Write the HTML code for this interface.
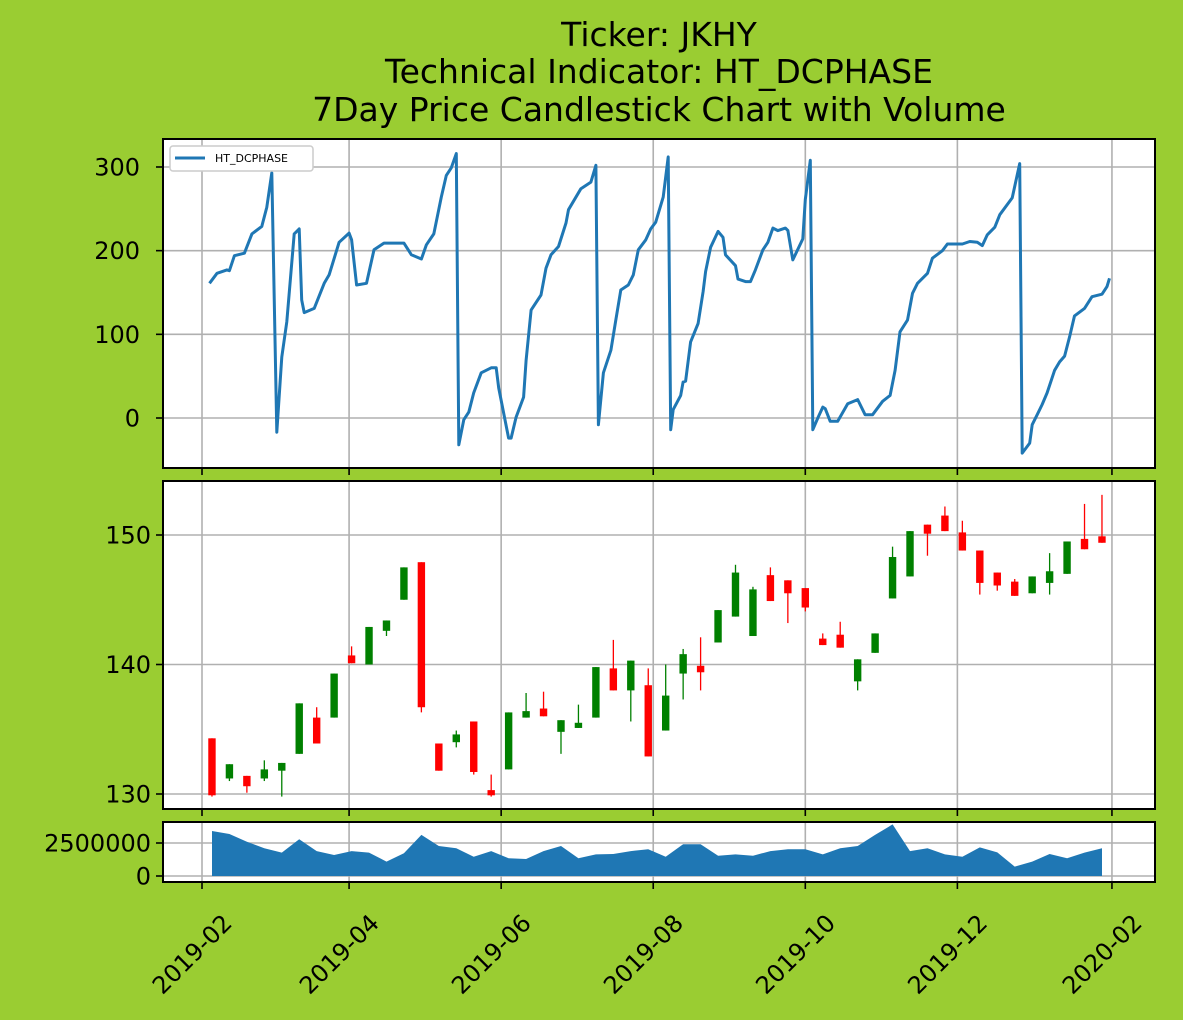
<!DOCTYPE html>
<html><head><meta charset="utf-8">
<style>
html,body{margin:0;padding:0;background:#9acd32;}
svg{display:block;font-family:"DejaVu Sans","Liberation Sans",sans-serif;}
</style></head>
<body>
<svg id="chart" width="1183" height="1020" viewBox="0 0 1183 1020" xmlns="http://www.w3.org/2000/svg">
<rect x="0" y="0" width="1183" height="1020" fill="#9acd32"/>
<g font-size="33" text-anchor="middle" fill="#000">
<text x="659" y="46">Ticker: JKHY</text>
<text x="659" y="83">Technical Indicator: HT_DCPHASE</text>
<text x="659" y="121">7Day Price Candlestick Chart with Volume</text>
</g>
<g id="layers"></g>
</svg>
<script>
// ---- data ----
const candleDates = ["2019-02-05","2019-02-12","2019-02-19","2019-02-26","2019-03-05","2019-03-12","2019-03-19","2019-03-26","2019-04-02","2019-04-09","2019-04-16","2019-04-23","2019-04-30","2019-05-07","2019-05-14","2019-05-21","2019-05-28","2019-06-04","2019-06-11","2019-06-18","2019-06-25","2019-07-02","2019-07-09","2019-07-16","2019-07-23","2019-07-30","2019-08-06","2019-08-13","2019-08-20","2019-08-27","2019-09-03","2019-09-10","2019-09-17","2019-09-24","2019-10-01","2019-10-08","2019-10-15","2019-10-22","2019-10-29","2019-11-05","2019-11-12","2019-11-19","2019-11-26","2019-12-03","2019-12-10","2019-12-17","2019-12-24","2019-12-31","2020-01-07","2020-01-14","2020-01-21","2020-01-28"];
const opens  = [134.3,131.2,131.4,131.2,131.8,133.1,135.9,135.9,140.7,140.0,142.6,145.0,147.9,133.9,134.0,135.6,130.3,131.9,135.9,136.6,134.8,135.1,135.9,139.7,138.0,138.4,134.9,139.3,139.9,141.7,143.7,142.2,146.9,146.5,145.9,142.0,142.3,138.7,140.9,145.1,146.8,150.8,151.5,150.2,148.8,147.1,146.4,145.5,146.3,147.0,149.7,149.9];
const closes = [129.9,132.3,130.6,131.9,132.4,137.0,133.9,139.3,140.1,142.9,143.4,147.5,136.7,131.8,134.6,131.7,129.9,136.3,136.4,136.0,135.7,135.5,139.8,138.0,140.3,132.9,137.6,140.8,139.4,144.2,147.1,145.8,144.9,145.5,144.4,141.5,141.3,140.4,142.4,148.3,150.3,150.1,150.3,148.8,146.3,146.1,145.3,146.8,147.2,149.5,148.9,149.4];
const highs  = [134.3,132.3,131.4,132.6,132.4,137.0,136.7,139.3,141.4,142.9,143.4,147.5,147.9,133.9,134.9,135.6,131.5,136.3,137.8,137.9,135.7,136.9,139.8,141.9,140.3,139.7,140.0,141.2,142.1,144.2,147.7,146.0,147.5,146.5,145.9,142.4,143.3,140.4,142.4,149.1,150.3,150.8,152.2,151.1,148.8,147.1,146.6,146.8,148.6,149.5,152.4,153.1];
const lows   = [129.8,131.0,130.1,131.0,129.8,133.1,133.9,135.9,140.1,140.0,142.2,145.0,136.3,131.8,133.6,131.5,129.8,131.9,135.9,136.0,133.1,135.1,135.9,138.0,135.6,132.9,134.9,137.3,138.0,141.7,143.7,142.2,144.9,143.2,144.1,141.5,141.3,138.0,140.9,145.1,146.8,148.4,150.3,148.8,145.4,145.7,145.3,145.5,145.4,147.0,148.9,149.4];
const volumes = [3.41,3.18,2.60,2.10,1.77,2.78,1.89,1.59,1.89,1.77,1.09,1.72,3.11,2.27,2.10,1.46,1.89,1.34,1.29,1.89,2.27,1.34,1.64,1.67,1.89,2.02,1.46,2.40,2.40,1.54,1.64,1.54,1.89,2.02,2.02,1.64,2.10,2.27,3.11,3.91,1.89,2.10,1.64,1.46,2.17,1.79,0.71,1.09,1.67,1.34,1.77,2.10]; // millions
const phaseDays = [3,6,10,11,13,17,20,24,26,28,30,32,34,37,39,40,41,45,49,51,55,59,60,62,66,69,73,81,84,88,90,93,96,98,100,102,103,105,107,109,112,116,118,119,123,124,126,129,130,132,136,138,140,143,146,147,152,156,158,159,161,164,166,168,171,173,175,178,180,182,185,187,188,189,192,193,194,196,199,201,202,204,207,209,210,214,215,218,220,222,225,227,229,231,234,235,237,241,242,244,245,247,249,250,252,255,259,263,266,269,273,276,278,280,283,285,287,291,293,297,299,305,308,311,313,315,318,320,325,328,329,332,333,335,337,339,342,344,346,348,350,354,357,361,363,364];
const phaseVals = [161,173,177,176,194,197,220,229,252,293,-17,73,115,220,226,141,126,131,161,171,210,221,213,159,161,201,209,209,195,190,207,220,264,290,299,316,-32,-2,7,30,54,60,60,36,-24,-24,1,25,69,129,147,179,195,205,233,249,274,282,302,-8,54,81,117,153,159,171,201,213,226,234,264,312,-14,10,27,43,44,91,113,151,175,204,223,216,195,182,166,163,163,177,201,210,227,224,227,224,189,214,261,308,-14,0,13,11,-4,-4,17,22,4,4,20,27,57,103,117,149,161,173,191,200,208,208,211,210,206,219,228,243,263,304,-42,-30,-8,4,16,30,57,67,74,97,122,131,145,148,157,167];
const phaseTicks = [0,100,200,300];
const priceTicks = [130,140,150];
const volumeTicks = [0,2500000];
const volumeTickLabels = ["0","2500000"];
const monthTicks = ["2019-02-01","2019-04-01","2019-06-01","2019-08-01","2019-10-01","2019-12-01","2020-02-01"];
const monthTickLabels = ["2019-02","2019-04","2019-06","2019-08","2019-10","2019-12","2020-02"];

// ---- geometry ----
const NS = "http://www.w3.org/2000/svg";
const L = 163, R = 1155;
const P1 = {top:139,bottom:468}, P2 = {top:481,bottom:809}, P3 = {top:822,bottom:882};
const origin = Date.UTC(2019,1,1);
function dayOf(s){const p=s.split("-");return (Date.UTC(+p[0],+p[1]-1,+p[2])-origin)/86400000;}
function xDay(d){return 202 + d*2.493;}
function xDate(s){return xDay(dayOf(s));}
function yPhase(v){return 418 - v*0.8367;}
function yPrice(v){return 535 + (150 - v)*12.95;}
function yVol(v){return 876 - v/1e6*13.2;}

const layers = document.getElementById('layers');
function mk(tag, attrs, parent){const e=document.createElementNS(NS,tag);for(const k in attrs)e.setAttribute(k,attrs[k]);(parent||layers).appendChild(e);return e;}

function panel(p, name){
  const g = mk('g',{});
  
  
  const bg = mk('rect',{x:L,y:p.top,width:R-L,height:p.bottom-p.top,fill:'#fff'},g);
  
  
  monthTicks.forEach(m=>{
    const x = xDate(m);
    const gl = mk('line',{x1:x,x2:x,y1:p.top,y2:p.bottom,stroke:'#b0b0b0','stroke-width':1.6},g);
    
    
    const tk = mk('line',{x1:x,x2:x,y1:p.bottom,y2:p.bottom+7,stroke:'#000','stroke-width':1.6},g);
    
    
  });
  return g;
}
function yAxis(g, p, ticks, yf, labels, name, labelRight){
  ticks.forEach((t,i)=>{
    const y = yf(t);
    const gl = mk('line',{x1:L,x2:R,y1:y,y2:y,stroke:'#b0b0b0','stroke-width':1.6},g);
    
    
    const tk = mk('line',{x1:L-7,x2:L,y1:y,y2:y,stroke:'#000','stroke-width':1.6},g);
    
    
    const tx = mk('text',{x:labelRight,y:y+8.5,'font-size':24,'text-anchor':'end',fill:'#000'},g);
    tx.textContent = labels ? labels[i] : String(t);
    
    
  });
}
function frame(g,p,name){
  const f = mk('rect',{x:L,y:p.top,width:R-L,height:p.bottom-p.top,fill:'none',stroke:'#000','stroke-width':2},g);
  
  
}

// Panel 1: HT_DCPHASE
const g1 = panel(P1,'indicator-panel');
yAxis(g1,P1,phaseTicks,yPhase,null,'indicator',140);
let d = '';
phaseDays.forEach((day,i)=>{d += (i?'L':'M') + xDay(day).toFixed(1) + ' ' + yPhase(phaseVals[i]).toFixed(1) + ' ';});
const line = mk('path',{d:d,fill:'none',stroke:'#1f77b4','stroke-width':3,'stroke-linejoin':'round'},g1);


const lg = mk('g',{},g1);


const lbox = mk('rect',{x:170,y:146,width:143,height:25,rx:3,fill:'#fff',stroke:'#ccc','stroke-width':1.5},lg);


const lline = mk('line',{x1:175,x2:205,y1:158,y2:158,stroke:'#1f77b4','stroke-width':3},lg);


const ltxt = mk('text',{x:215,y:162,'font-size':11,fill:'#000'},lg);
ltxt.textContent = 'HT_DCPHASE';


frame(g1,P1,'indicator-panel');

// Panel 2: candlesticks
const g2 = panel(P2,'price-panel');
yAxis(g2,P2,priceTicks,yPrice,null,'price',151);
candleDates.forEach((ds,i)=>{
  const x = xDate(ds);
  const up = closes[i] >= opens[i];
  const col = up ? '#008000' : '#ff0000';
  const wk = mk('line',{x1:x,x2:x,y1:yPrice(highs[i]),y2:yPrice(lows[i]),stroke:col,'stroke-width':1.3},g2);
  
  
  const top = yPrice(Math.max(opens[i],closes[i]));
  const bot = yPrice(Math.min(opens[i],closes[i]));
  const b = mk('rect',{x:x-3.7,y:top,width:7.4,height:Math.max(1,bot-top),fill:col},g2);
  
  
});
frame(g2,P2,'price-panel');

// Panel 3: volume
const g3 = panel(P3,'volume-panel');
yAxis(g3,P3,volumeTicks,yVol,volumeTickLabels,'volume',151);
let va = 'M' + xDate(candleDates[0]).toFixed(1) + ' ' + yVol(0);
candleDates.forEach((ds,i)=>{va += ' L' + xDate(ds).toFixed(1) + ' ' + yVol(volumes[i]*1e6).toFixed(1);});
va += ' L' + xDate(candleDates[candleDates.length-1]).toFixed(1) + ' ' + yVol(0) + ' Z';
const area = mk('path',{d:va,fill:'#1f77b4'},g3);


frame(g3,P3,'volume-panel');

// X tick labels (rotated)
monthTicks.forEach((m,i)=>{
  const x = xDate(m) - 4, y = 960;
  const t = mk('text',{x:x,y:y,'font-size':24,'text-anchor':'middle',fill:'#000',transform:'rotate(-45 '+x+' '+y+')'});
  t.textContent = monthTickLabels[i];
  
  
});
</script>
</body></html>
